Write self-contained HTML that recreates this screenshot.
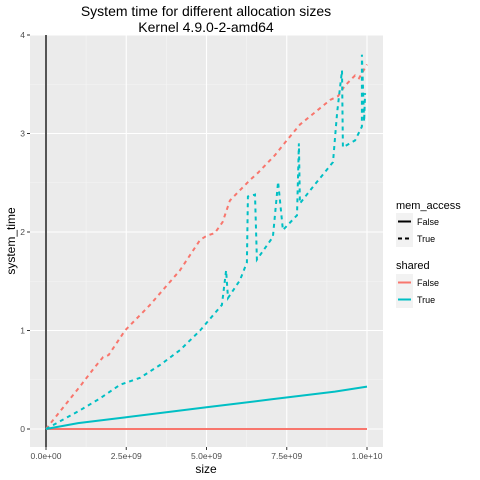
<!DOCTYPE html>
<html><head><meta charset="utf-8"><style>
html,body{margin:0;padding:0;background:#fff;}
svg{display:block;font-family:"Liberation Sans",sans-serif;}
</style></head><body>
<svg id="chart" width="480" height="480" viewBox="0 0 480 480">
<text x="206" y="16" text-anchor="middle" font-size="14" fill="#000">System time for different allocation sizes</text>
<text x="206" y="32" text-anchor="middle" font-size="14" fill="#000">Kernel 4.9.0-2-amd64</text>
<rect x="30" y="35" width="353" height="412" fill="#ebebeb"/>
<g id="grid"></g>
<g id="series"></g>
<g id="axes"></g>
<text x="206" y="473" text-anchor="middle" font-size="12" fill="#000">size</text>
<text transform="translate(15,241) rotate(-90)" text-anchor="middle" font-size="12" fill="#000">system_time</text>
<g>
<text x="396" y="209" font-size="11">mem_access</text>
<rect x="396" y="213" width="17" height="17" fill="#f2f2f2"/>
<line x1="398" y1="221.5" x2="411" y2="221.5" stroke="#000" stroke-width="2"/>
<text x="417" y="225" font-size="9">False</text>
<rect x="396" y="230" width="17" height="17" fill="#f2f2f2"/>
<line x1="398" y1="238.5" x2="411" y2="238.5" stroke="#000" stroke-width="2" stroke-dasharray="4,3"/>
<text x="417" y="242" font-size="9">True</text>
<text x="396" y="269" font-size="11">shared</text>
<rect x="396" y="274" width="17" height="17" fill="#f2f2f2"/>
<line x1="398" y1="282.5" x2="411" y2="282.5" stroke="#f8766d" stroke-width="2"/>
<text x="417" y="286" font-size="9">False</text>
<rect x="396" y="291" width="17" height="17" fill="#f2f2f2"/>
<line x1="398" y1="299.5" x2="411" y2="299.5" stroke="#00bfc4" stroke-width="2"/>
<text x="417" y="303" font-size="9">True</text>
</g>
</svg>
<script>
const xTicks=[0,2.5,5,7.5,10];
const xTickLabels=["0.0e+00","2.5e+09","5.0e+09","7.5e+09","1.0e+10"];
const yTicks=[0,1,2,3,4];
const yTickLabels=["0","1","2","3","4"];
// x in units of 1e9
const redDashX=[0,1.1,1.5,1.78,1.95,2.46,3.24,4.17,4.8,5.0,5.26,5.5,5.73,6.36,6.6,7.13,7.5,7.91,8.85,9.1,9.3,9.63,9.75,10];
const redDashY=[0,0.45,0.62,0.73,0.75,1.0,1.26,1.61,1.92,1.96,1.99,2.1,2.32,2.53,2.6,2.78,2.93,3.09,3.34,3.38,3.48,3.59,3.56,3.7];
const cyanDashX=[0,1.06,1.68,2.31,2.93,3.55,4.17,4.8,5.48,5.61,5.67,6.04,6.26,6.29,6.51,6.57,7.07,7.23,7.38,7.82,7.88,7.91,8.32,8.94,9.07,9.22,9.25,9.63,9.84,9.84,9.91,9.94];
const cyanDashY=[0,0.19,0.31,0.45,0.52,0.65,0.8,1.0,1.26,1.61,1.33,1.51,1.69,2.36,2.38,1.72,1.95,2.51,2.02,2.17,2.9,2.29,2.46,2.71,3.21,3.64,2.86,2.93,3.07,3.8,3.12,3.41];
const cyanSolidX=[0,1,2.5,4,5,6,7,8,9,10];
const cyanSolidY=[0,0.06,0.12,0.18,0.22,0.26,0.3,0.34,0.38,0.43];
const redSolidX=[0,10];
const redSolidY=[0,0];

const NS="http://www.w3.org/2000/svg";
const sx=v=>46+v*32.1;
const sy=v=>429-v*98.5;
const grid=document.getElementById('grid'),axes=document.getElementById('axes'),series=document.getElementById('series');
function mk(tag,attrs,parent){const e=document.createElementNS(NS,tag);for(const k in attrs)e.setAttribute(k,attrs[k]);parent.appendChild(e);return e;}
for(let i=0;i<xTicks.length-1;i++){const m=(xTicks[i]+xTicks[i+1])/2;const g=mk('line',{x1:sx(m),x2:sx(m),y1:35,y2:447,stroke:'#f5f5f5','stroke-width':0.6},grid);

}
for(let i=0;i<yTicks.length-1;i++){const m=(yTicks[i]+yTicks[i+1])/2;const g=mk('line',{x1:30,x2:383,y1:sy(m),y2:sy(m),stroke:'#f5f5f5','stroke-width':0.6},grid);

}
xTicks.forEach((t,i)=>{const g=mk('line',{x1:sx(t),x2:sx(t),y1:35,y2:447,stroke:'#fff','stroke-width':1.1},grid);


const tk=mk('line',{x1:sx(t),x2:sx(t),y1:447,y2:450,stroke:'#333'},axes);


const tx=mk('text',{x:sx(t),y:459,'text-anchor':'middle','font-size':8.5,fill:'#4d4d4d'},axes);tx.textContent=xTickLabels[i];

});
yTicks.forEach((t,i)=>{const g=mk('line',{x1:30,x2:383,y1:sy(t),y2:sy(t),stroke:'#fff','stroke-width':1.1},grid);


const tk=mk('line',{x1:27,x2:30,y1:sy(t),y2:sy(t),stroke:'#333'},axes);


const tx=mk('text',{x:25,y:sy(t)+3,'text-anchor':'end','font-size':8.5,fill:'#4d4d4d'},axes);tx.textContent=yTickLabels[i];

});
const vl=mk('line',{x1:sx(0),x2:sx(0),y1:35,y2:447,stroke:'#555','stroke-width':2},series);


function line(xs,ys,color,dash,name){const d=xs.map((x,i)=>(i?'L':'M')+sx(x).toFixed(1)+','+sy(ys[i]).toFixed(1)).join('');
const p=mk('path',{d:d,fill:'none',stroke:color,'stroke-width':2,'stroke-dasharray':dash||'none'},series);

}
line(redSolidX,redSolidY,'#f8766d',null,'line-shared-false-solid');
line(cyanSolidX,cyanSolidY,'#00bfc4',null,'line-shared-true-solid');
line(redDashX,redDashY,'#f8766d','4,4','line-shared-false-dashed');
line(cyanDashX,cyanDashY,'#00bfc4','4,4','line-shared-true-dashed');
</script>
</body></html>
